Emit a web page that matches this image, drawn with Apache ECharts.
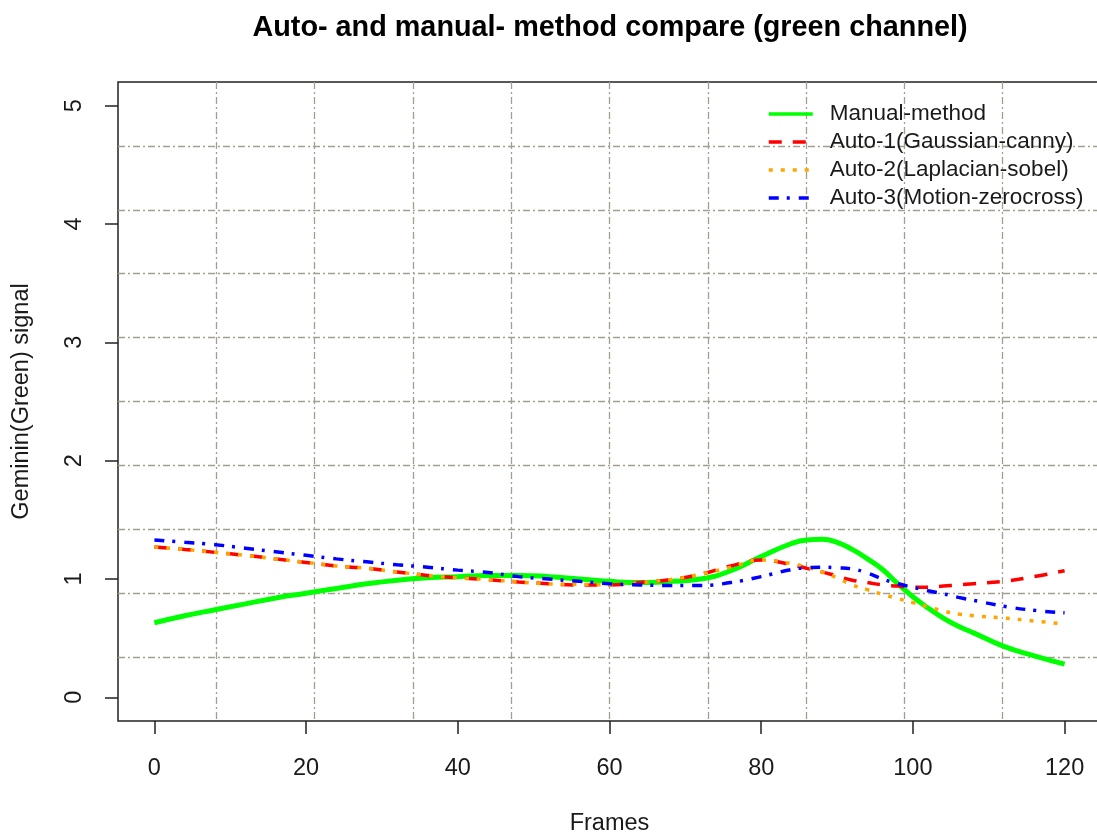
<!DOCTYPE html>
<html>
<head>
<meta charset="utf-8">
<script src="https://cdn.jsdelivr.net/npm/echarts@6/dist/echarts.min.js"></script>
<style>
  html, body { margin: 0; padding: 0; background: #ffffff; }
  #chart { width: 1097px; height: 833px; }
</style>
</head>
<body>
<div id="chart"></div>
<script>
// Frame index shared by every curve (denser around the peak)
const frames = [0, 4, 8, 12, 16, 20, 24, 28, 32, 36, 40, 44, 48, 52, 56, 60, 64, 68, 72, 76, 80, 84, 86, 88, 90, 92, 94, 96, 98, 100, 102, 104, 106, 108, 112, 116, 120];

// Geminin (green channel) signal per method
const manualMethod = [0.63, 0.69, 0.74, 0.79, 0.84, 0.88, 0.92, 0.96, 0.99, 1.01, 1.02, 1.03, 1.03, 1.02, 1.00, 0.98, 0.97, 0.98, 1.00, 1.07, 1.19, 1.30, 1.33, 1.335, 1.31, 1.25, 1.17, 1.08, 0.96, 0.85, 0.755, 0.67, 0.60, 0.545, 0.43, 0.35, 0.28];
const auto1 = [1.27, 1.25, 1.225, 1.20, 1.17, 1.14, 1.11, 1.09, 1.06, 1.03, 1.01, 0.995, 0.975, 0.96, 0.95, 0.95, 0.97, 0.995, 1.04, 1.11, 1.16, 1.12, 1.09, 1.06, 1.025, 0.99, 0.97, 0.95, 0.94, 0.93, 0.93, 0.94, 0.95, 0.96, 0.98, 1.02, 1.07];
const auto2 = [1.27, 1.25, 1.225, 1.20, 1.17, 1.14, 1.11, 1.09, 1.06, 1.03, 1.01, 0.995, 0.975, 0.96, 0.955, 0.95, 0.97, 0.995, 1.04, 1.10, 1.16, 1.13, 1.10, 1.06, 1.01, 0.95, 0.91, 0.87, 0.835, 0.80, 0.765, 0.73, 0.705, 0.69, 0.67, 0.645, 0.62];
const auto3 = [1.33, 1.31, 1.29, 1.26, 1.23, 1.20, 1.17, 1.145, 1.12, 1.10, 1.075, 1.055, 1.02, 1.00, 0.98, 0.96, 0.95, 0.945, 0.945, 0.97, 1.02, 1.08, 1.095, 1.10, 1.095, 1.085, 1.05, 1.00, 0.96, 0.93, 0.90, 0.875, 0.845, 0.82, 0.77, 0.735, 0.715];

const seriesNames = ['Manual-method', 'Auto-1(Gaussian-canny)', 'Auto-2(Laplacian-sobel)', 'Auto-3(Motion-zerocross)'];

// Axis tick labels
const xTicks = [0, 20, 40, 60, 80, 100, 120];
const yTicks = [0, 1, 2, 3, 4, 5];

// Data limits, padded by 4% on each side like a base R plot
const xLim = [0, 120];
const yLim = [0, 5];
function padRange(lim) {
  const d = (lim[1] - lim[0]) * 0.04;
  return [lim[0] - d, lim[1] + d];
}
const xRange = padRange(xLim);
const yRange = padRange(yLim);

const FONT = '"Liberation Sans", Arial, sans-serif';
const INK = '#1a1a1a';
const gridLine = { color: '#a29e90', width: 1.3, type: [7, 3, 2, 3] };

function pairs(ys) { return frames.map((f, i) => [f, ys[i]]); }

const styles = [
  { color: '#00ff00', width: 5, type: 'solid' },
  { color: '#ff0000', width: 3.5, type: [13, 11] },
  { color: '#ffa500', width: 3.5, type: [4, 8] },
  { color: '#0000ff', width: 3.5, type: [10, 8, 3, 9] }
];
const values = [manualMethod, auto1, auto2, auto3];

const chart = echarts.init(document.getElementById('chart'), null, { renderer: 'canvas' });

chart.setOption({
  backgroundColor: '#ffffff',
  animation: false,
  textStyle: { fontFamily: FONT },
  title: {
    text: 'Auto- and manual- method compare (green channel)',
    left: 605,
    top: 9,
    textAlign: 'center',
    textStyle: { fontFamily: FONT, fontSize: 28.8, fontWeight: 'bold', color: '#000' }
  },
  legend: {
    orient: 'vertical',
    left: 762,
    top: 97,
    itemWidth: 44,
    itemHeight: 14,
    itemGap: 4,
    selectedMode: false,
    data: seriesNames,
    itemStyle: { opacity: 0 },
    lineStyle: { width: 3.5 },
    textStyle: { fontFamily: FONT, fontSize: 22.5, color: INK, lineHeight: 24, padding: [0, 0, 0, 12] }
  },
  grid: {
    left: 118,
    top: 82,
    width: 983,
    height: 639,
    outerBoundsMode: 'none',
    show: true,
    borderColor: '#222',
    borderWidth: 1.5,
    backgroundColor: 'transparent'
  },
  xAxis: [
    {
      type: 'value',
      min: xRange[0],
      max: xRange[1],
      axisLine: { show: false, onZero: false },
      axisTick: { show: true, customValues: xTicks, length: 13, lineStyle: { color: '#222', width: 1.5 } },
      axisLabel: { customValues: xTicks, fontFamily: FONT, fontSize: 23.5, color: INK, margin: 36 },
      splitLine: { show: false },
      name: 'Frames',
      nameLocation: 'middle',
      nameGap: 91,
      nameTextStyle: { fontFamily: FONT, fontSize: 23.5, color: INK }
    },
    {
      // grid: ten equal cells across the plotting region
      type: 'value',
      min: 0,
      max: 10,
      interval: 1,
      position: 'top',
      axisLine: { show: false, onZero: false },
      axisTick: { show: false },
      axisLabel: { show: false },
      splitLine: { show: true, showMinLine: false, showMaxLine: false, lineStyle: gridLine }
    }
  ],
  yAxis: [
    {
      type: 'value',
      min: yRange[0],
      max: yRange[1],
      axisLine: { show: false, onZero: false },
      axisTick: { show: true, customValues: yTicks, length: 13, lineStyle: { color: '#222', width: 1.5 } },
      axisLabel: { customValues: yTicks, rotate: 90, fontFamily: FONT, fontSize: 23.5, color: INK, margin: 31 },
      splitLine: { show: false },
      name: 'Geminin(Green) signal',
      nameLocation: 'middle',
      nameGap: 84,
      nameRotate: 90,
      nameTextStyle: { fontFamily: FONT, fontSize: 23.5, color: INK }
    },
    {
      type: 'value',
      min: 0,
      max: 10,
      interval: 1,
      position: 'right',
      axisLine: { show: false, onZero: false },
      axisTick: { show: false },
      axisLabel: { show: false },
      splitLine: { show: true, showMinLine: false, showMaxLine: false, lineStyle: gridLine }
    }
  ],
  series: seriesNames.map((name, i) => ({
    name: name,
    type: 'line',
    xAxisIndex: 0,
    yAxisIndex: 0,
    data: pairs(values[i]),
    smooth: 0.5,
    symbol: 'none',
    z: 3 + i,
    color: styles[i].color,
    lineStyle: { color: styles[i].color, width: styles[i].width, type: styles[i].type }
  }))
});
</script>
</body>
</html>
